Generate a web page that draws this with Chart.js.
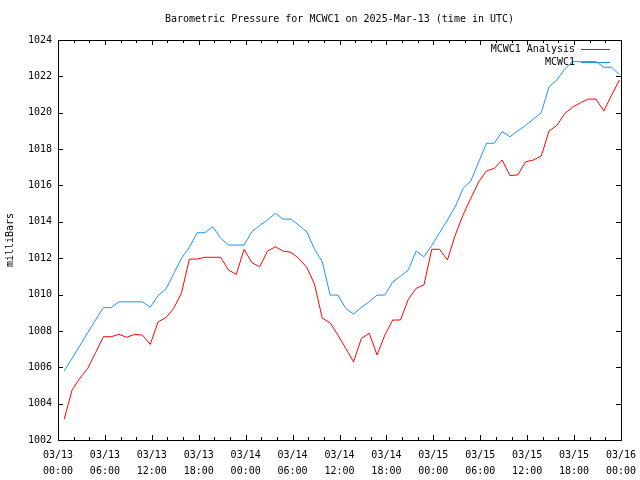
<!DOCTYPE html>
<html>
<head>
<meta charset="utf-8">
<script src="https://cdn.jsdelivr.net/npm/chart.js@4/dist/chart.umd.min.js"></script>
<style>
html,body{margin:0;padding:0;background:#fff;}
#wrap{width:640px;height:480px;position:relative;}
</style>
</head>
<body>
<div id="wrap"><canvas id="c" width="640" height="480"></canvas></div>
<script>
const titleText = "Barometric Pressure for MCWC1 on 2025-Mar-13 (time in UTC)";
const yTitle = "milliBars";
const seriesNames = ["MCWC1 Analysis", "MCWC1"];
// hours since 03/13 00:00 UTC
const hours = [0.8,1.8,2.8,3.8,4.8,5.8,6.8,7.8,8.8,9.8,10.8,11.8,12.8,13.8,14.8,15.8,16.8,17.8,18.8,19.8,20.8,21.8,22.8,23.8,
  24.8,25.8,26.8,27.8,28.8,29.8,30.8,31.8,32.8,33.8,34.8,35.8,36.8,37.8,38.8,39.8,40.8,41.8,42.8,43.8,44.8,45.8,46.8,47.8,
  48.8,49.8,50.8,51.8,52.8,53.8,54.8,55.8,56.8,57.8,58.8,59.8,60.8,61.8,62.8,63.8,64.8,65.8,66.8,67.8,68.8,69.8,70.8,71.8];
const analysis = [1003.15,1004.75,1005.4,1005.94,1006.8,1007.68,1007.68,1007.81,1007.65,1007.81,1007.77,1007.26,
  1008.5,1008.73,1009.24,1010.1,1011.95,1011.95,1012.05,1012.05,1012.05,1011.35,1011.11,1012.49,
  1011.75,1011.53,1012.39,1012.63,1012.39,1012.32,1011.99,1011.5,1010.58,1008.69,1008.45,1007.77,
  1007.04,1006.3,1007.59,1007.87,1006.68,1007.77,1008.6,1008.6,1009.74,1010.34,1010.53,1012.49,
  1012.49,1011.9,1013.27,1014.38,1015.3,1016.2,1016.8,1016.94,1017.4,1016.54,1016.58,1017.3,
  1017.4,1017.62,1019.0,1019.3,1019.95,1020.3,1020.55,1020.75,1020.75,1020.1,1020.97,1021.8];
const observed = [1005.8,1006.5,1007.2,1007.9,1008.6,1009.28,1009.28,1009.6,1009.6,1009.6,1009.6,1009.3,
  1009.95,1010.3,1011.15,1012.0,1012.6,1013.4,1013.4,1013.73,1013.1,1012.72,1012.72,1012.72,
  1013.46,1013.8,1014.1,1014.47,1014.15,1014.15,1013.8,1013.46,1012.5,1011.8,1009.97,1009.97,
  1009.24,1008.93,1009.3,1009.6,1009.97,1009.97,1010.7,1011.0,1011.35,1012.39,1012.08,1012.7,
  1013.4,1014.1,1014.83,1015.84,1016.25,1017.3,1018.32,1018.32,1018.96,1018.68,1019.0,1019.3,
  1019.65,1020.0,1021.43,1021.8,1022.4,1022.81,1022.81,1022.81,1022.81,1022.5,1022.5,1022.1];
const xTickLabels = [["03/13","00:00"],["03/13","06:00"],["03/13","12:00"],["03/13","18:00"],
  ["03/14","00:00"],["03/14","06:00"],["03/14","12:00"],["03/14","18:00"],
  ["03/15","00:00"],["03/15","06:00"],["03/15","12:00"],["03/15","18:00"],["03/16","00:00"]];
const yMin = 1002, yMax = 1024, yStep = 2;
const xMin = 0, xMax = 72, xStep = 6, xMinorStep = 2;
const colors = ["#ff0000", "#1e90ff"];

const FONT = "'DejaVu Sans Mono', 'Liberation Mono', monospace";

const framePlugin = {
  id: 'frame',
  afterDatasetsDraw(chart) {
    const ctx = chart.ctx, a = chart.chartArea;
    const xs = chart.scales.x, ys = chart.scales.y;
    ctx.save();
    ctx.strokeStyle = '#000';
    ctx.lineWidth = 1;
    ctx.beginPath();
    for (let h = xMin; h <= xMax; h += xMinorStep) {
      const px = Math.round(xs.getPixelForValue(h)) + 0.5;
      const len = (h % xStep === 0) ? 5 : 3;
      ctx.moveTo(px, a.bottom); ctx.lineTo(px, a.bottom - len);
      ctx.moveTo(px, a.top); ctx.lineTo(px, a.top + len);
    }
    for (let v = yMin; v <= yMax; v += yStep) {
      const py = Math.round(ys.getPixelForValue(v)) + 0.5;
      ctx.moveTo(a.left, py); ctx.lineTo(a.left + 5, py);
      ctx.moveTo(a.right, py); ctx.lineTo(a.right - 5, py);
    }
    ctx.stroke();
    ctx.strokeRect(Math.round(a.left) + 0.5, Math.round(a.top) + 0.5,
      Math.round(a.right - a.left), Math.round(a.bottom - a.top));
    ctx.fillStyle = '#000';
    ctx.font = '10px ' + FONT;
    ctx.textAlign = 'center';
    ctx.textBaseline = 'middle';
    ctx.fillText(titleText, (a.left + a.right) / 2, 19);
    ctx.textAlign = 'right';
    chart.data.datasets.forEach((ds, i) => {
      const y = 49 + i * 13;
      ctx.fillStyle = '#000';
      ctx.fillText(ds.label, a.right - 46, y);
      ctx.strokeStyle = ds.borderColor;
      ctx.beginPath();
      ctx.moveTo(a.right - 40, y + 0.5);
      ctx.lineTo(a.right - 11, y + 0.5);
      ctx.stroke();
    });
    ctx.restore();
  }
};

const mk = (arr) => hours.map((h, i) => ({x: h, y: arr[i]}));

new Chart(document.getElementById('c'), {
  type: 'line',
  data: {
    datasets: [
      {label: seriesNames[0], data: mk(analysis), borderColor: colors[0], borderWidth: 1, pointRadius: 0, tension: 0, fill: false},
      {label: seriesNames[1], data: mk(observed), borderColor: colors[1], borderWidth: 1, pointRadius: 0, tension: 0, fill: false}
    ]
  },
  options: {
    responsive: false,
    animation: false,
    layout: {padding: {top: 40, right: 19, left: 0, bottom: 0}},
    plugins: {legend: {display: false}, title: {display: false}, tooltip: {enabled: false}},
    scales: {
      x: {
        type: 'linear', min: xMin, max: xMax,
        afterFit(s) { s.height = 40; s.paddingLeft = 0; s.paddingRight = 0; },
        grid: {display: false, drawTicks: false},
        border: {display: false},
        ticks: {
          stepSize: xStep, autoSkip: false, maxRotation: 0, padding: 7,
          color: '#000', font: {family: FONT, size: 10, lineHeight: 1.6},
          callback: (v) => xTickLabels[Math.round(v / xStep)]
        }
      },
      y: {
        min: yMin, max: yMax,
        afterFit(s) { s.width = 58; s.paddingTop = 0; s.paddingBottom = 0; },
        grid: {display: false, drawTicks: false},
        border: {display: false},
        ticks: {stepSize: yStep, padding: 6, color: '#000', font: {family: FONT, size: 10},
          callback: (v) => String(v)},
        title: {display: true, text: yTitle, color: '#000', font: {family: FONT, size: 10}, padding: {top: 4, bottom: 0}}
      }
    }
  },
  plugins: [framePlugin]
});
</script>
</body>
</html>
